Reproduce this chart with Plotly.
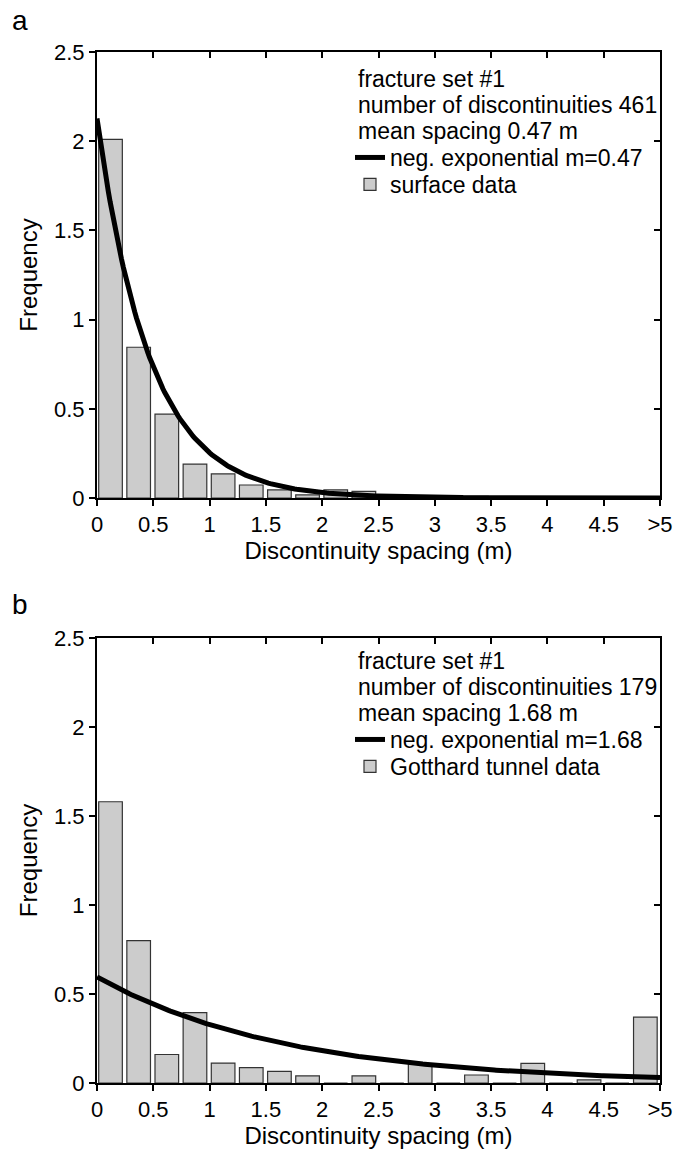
import numpy as np
import plotly.graph_objects as go

# ---------------- data ----------------
bin_left = [i * 0.25 for i in range(20)]          # bin starts 0 ... 4.75 (last bin = ">5")
freq_a = [2.01, 0.845, 0.47, 0.19, 0.135, 0.073, 0.045, 0.017, 0.045, 0.037,
          0.0, 0.004, 0.004, 0.009, 0.003, 0.003, 0.002, 0.002, 0.002, 0.003]
freq_b = [1.58, 0.80, 0.16, 0.395, 0.112, 0.086, 0.065, 0.04, 0.0, 0.04,
          0.0, 0.107, 0.0, 0.045, 0.0, 0.11, 0.0, 0.017, 0.0, 0.37]
mean_a = 0.47
mean_b = 1.68
header_a = ["fracture set #1", "number of discontinuities 461", "mean spacing 0.47 m"]
header_b = ["fracture set #1", "number of discontinuities 179", "mean spacing 1.68 m"]
curve_name_a = "neg. exponential m=0.47"
curve_name_b = "neg. exponential m=1.68"
bar_name_a = "surface data"
bar_name_b = "Gotthard tunnel data"
x_tickvals = [0, 0.5, 1, 1.5, 2, 2.5, 3, 3.5, 4, 4.5, 5]
x_ticktext = ["0", "0.5", "1", "1.5", "2", "2.5", "3", "3.5", "4", "4.5", ">5"]
y_tickvals = [0, 0.5, 1, 1.5, 2, 2.5]
y_ticktext = ["0", "0.5", "1", "1.5", "2", "2.5"]
x_title = "Discontinuity spacing (m)"
y_title = "Frequency"

FONT = "Liberation Sans, Arial, Helvetica, sans-serif"
W, H = 674, 1155
ML, MR, MT, MB = 97, 14, 52, 72
plot_h = H - MT - MB
dom_a = [(plot_h - 446) / plot_h, 1.0]
dom_b = [0.0, (plot_h - 586) / plot_h]

bar_x = [b + 0.12 for b in bin_left]
xs = np.linspace(0, 5, 300)


def ypaper(py):
    return 1 - (py - MT) / plot_h


def xpaper(px):
    return (px - ML) / (W - ML - MR)


fig = go.Figure()


def add_panel(freq, m, bar_name, curve_name, xa, ya, leg_line, leg_bar):
    fig.add_trace(go.Bar(
        x=bar_x, y=freq, width=0.21, name=bar_name,
        marker=dict(color="#cccccc", line=dict(color="#333333", width=1.2)),
        xaxis=xa, yaxis=ya, legend=leg_bar, showlegend=True))
    fig.add_trace(go.Scatter(
        x=xs, y=np.exp(-xs / m) / m, mode="lines", name=curve_name,
        line=dict(color="black", width=5),
        xaxis=xa, yaxis=ya, legend=leg_line, showlegend=True))


add_panel(freq_a, mean_a, bar_name_a, curve_name_a, "x", "y", "legend", "legend2")
add_panel(freq_b, mean_b, bar_name_b, curve_name_b, "x2", "y2", "legend3", "legend4")

# empty traces so that the mirrored (top / right) frame axes get drawn
for xa, ya in (("x3", "y3"), ("x4", "y4")):
    fig.add_trace(go.Scatter(x=[], y=[], xaxis=xa, yaxis=ya, showlegend=False,
                             hoverinfo="skip"))

tickfont = dict(family=FONT, size=22, color="black")
titlefont = dict(family=FONT, size=24, color="black")


def xaxis_main(anchor):
    return dict(range=[0, 5], domain=[0, 1], anchor=anchor, tickvals=x_tickvals,
                ticktext=x_ticktext, ticks="outside", ticklen=6, tickwidth=2,
                tickcolor="black", showline=True, linecolor="black", linewidth=2,
                showgrid=False, zeroline=False, tickfont=tickfont, automargin=False,
                ticklabeloverflow="allow", ticklabelstandoff=0,
                title=dict(text=x_title, font=titlefont, standoff=0))


def yaxis_main(anchor, dom):
    return dict(range=[0, 2.5], domain=dom, anchor=anchor, tickvals=y_tickvals,
                ticktext=y_ticktext, ticks="outside", ticklen=6, tickwidth=2,
                tickcolor="black", showline=True, linecolor="black", linewidth=2,
                showgrid=False, zeroline=False, tickfont=tickfont, automargin=False,
                title=dict(text=y_title, font=titlefont, standoff=10))


def xaxis_top(over, anchor):
    return dict(range=[0, 5], domain=[0, 1], overlaying=over, anchor=anchor, side="top",
                tickvals=x_tickvals, ticks="inside", ticklen=6, tickwidth=2,
                tickcolor="black", showticklabels=False, showline=True, automargin=False,
                linecolor="black", linewidth=2, showgrid=False, zeroline=False)


def yaxis_right(over, anchor, dom):
    return dict(range=[0, 2.5], domain=dom, overlaying=over, anchor=anchor, side="right",
                tickvals=y_tickvals, ticks="inside", ticklen=6, tickwidth=2,
                tickcolor="black", showticklabels=False, showline=True, automargin=False,
                linecolor="black", linewidth=2, showgrid=False, zeroline=False)


def leg(py):
    return dict(font=dict(family=FONT, size=23, color="black"),
                bgcolor="rgba(0,0,0,0)", itemwidth=30, tracegroupgap=0,
                xanchor="left", yanchor="top", x=xpaper(350), y=ypaper(py))


fig.update_layout(
    width=W, height=H, autosize=False,
    margin=dict(l=ML, r=MR, t=MT, b=MB, autoexpand=False),
    paper_bgcolor="white", plot_bgcolor="white",
    font=dict(family=FONT, color="black"),
    xaxis=xaxis_main("y"),
    yaxis=yaxis_main("x", dom_a),
    xaxis2=xaxis_main("y2"),
    yaxis2=yaxis_main("x2", dom_b),
    xaxis3=xaxis_top("x", "y3"),
    yaxis3=yaxis_right("y", "x3", dom_a),
    xaxis4=xaxis_top("x2", "y4"),
    yaxis4=yaxis_right("y2", "x4", dom_b),
    legend=leg(136), legend2=leg(163),
    legend3=leg(718), legend4=leg(745),
    showlegend=True,
)

annots = []
for i, t in enumerate(header_a):
    annots.append(dict(text=t, x=xpaper(356), y=ypaper(79 + 26 * i), xref="paper", yref="paper",
                       xanchor="left", yanchor="middle", showarrow=False,
                       font=dict(family=FONT, size=23, color="black")))
for i, t in enumerate(header_b):
    annots.append(dict(text=t, x=xpaper(356), y=ypaper(661 + 26 * i), xref="paper", yref="paper",
                       xanchor="left", yanchor="middle", showarrow=False,
                       font=dict(family=FONT, size=23, color="black")))
annots.append(dict(text="a", x=xpaper(10), y=ypaper(20), xref="paper", yref="paper",
                   xanchor="left", yanchor="middle", showarrow=False,
                   font=dict(family=FONT, size=28, color="black")))
annots.append(dict(text="b", x=xpaper(10), y=ypaper(604), xref="paper", yref="paper",
                   xanchor="left", yanchor="middle", showarrow=False,
                   font=dict(family=FONT, size=28, color="black")))
fig.update_layout(annotations=annots)

fig.write_html("out.html")
